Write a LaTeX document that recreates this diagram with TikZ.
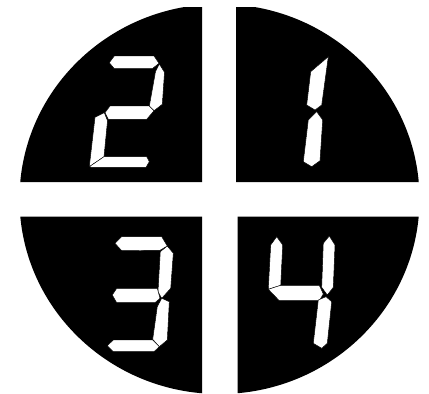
\documentclass[tikz,border=0pt]{standalone}
\begin{document}
\begin{tikzpicture}[x=1pt,y=-1pt,
  seg/.style={fill=white,draw=black,line width=0.45pt,line join=miter}]
\useasboundingbox (0,0) rectangle (429,394);
\fill[white] (0,0) rectangle (429,394);
\begin{scope}
  \clip (0,7) rectangle (202,182) (236,7) rectangle (429,182)
        (0,216.5) rectangle (202,394) (237.5,216.5) rectangle (429,394);
  \fill[black] (219.5,199) ellipse [x radius=200, y radius=195];
\end{scope}
% digit 2
\draw[seg] (109.3,62.7) -- (114.3,56) -- (154,56) -- (159,63.3) -- (152.3,68.7) -- (114.3,68.7) -- cycle;
\draw[seg] (159.3,64) -- (164.5,72.3) -- (162.3,104.3) -- (154,110.7) -- (149.3,106.3) -- (155.5,71.7) -- cycle;
\draw[seg] (110,106) -- (149.3,106) -- (154,110.7) -- (146.7,119.3) -- (108.3,119.3) -- (105,112.7) -- cycle;
\draw[seg] (104.3,112.7) -- (95,117.3) -- (89.3,166.7) -- (104,156.7) -- (107.5,120.7) -- cycle;
\draw[seg] (89.3,166.7) -- (104,156.7) -- (146.7,156.7) -- (149.3,161.7) -- (146,167.3) -- (91.7,167.3) -- cycle;
% digit 1
\draw[seg] (328.3,56.7) -- (321.7,105) -- (315,110) -- (306.7,105) -- (310.7,71.7) -- cycle;
\draw[seg] (316.7,111.7) -- (322.7,120) -- (320,160.7) -- (311.7,166.7) -- (303.3,161.7) -- (308.3,120) -- cycle;
% digit 3
\draw[seg] (115,243.3) -- (121.7,236.7) -- (161.7,236.7) -- (167.3,246) -- (160,250.3) -- (121.7,250.7) -- cycle;
\draw[seg] (167.3,246) -- (173.3,253.3) -- (170.7,288.3) -- (161.7,298.3) -- (158,291.7) -- (160.3,251.7) -- cycle;
\draw[seg] (112.3,295) -- (116.7,288.3) -- (157.3,288.3) -- (160,298.3) -- (155,302.7) -- (116.7,302.7) -- cycle;
\draw[seg] (161.7,298.3) -- (169.3,301.7) -- (167.3,340) -- (159.3,346.7) -- (152.7,339.3) -- (157.3,306.7) -- cycle;
\draw[seg] (107.3,345.7) -- (113.3,340) -- (152.7,340) -- (159.3,346.7) -- (154,351.7) -- (113.3,351.7) -- cycle;
% digit 4
\draw[seg] (276.7,236.7) -- (282.7,245) -- (280.7,285.3) -- (268.3,289.3) -- (270.7,245) -- cycle;
\draw[seg] (268.3,289.3) -- (280.7,285.3) -- (319.3,285.3) -- (323.3,294) -- (319.3,300.7) -- (279.3,300.7) -- cycle;
\draw[seg] (329.3,236) -- (335,245) -- (333.3,287.3) -- (327.3,295) -- (321.7,287.3) -- (323.3,243.3) -- cycle;
\draw[seg] (326,296.7) -- (331.7,301.7) -- (327.3,343.3) -- (321.7,348.3) -- (313.3,343.3) -- (318.3,300) -- cycle;
\end{tikzpicture}
\end{document}
